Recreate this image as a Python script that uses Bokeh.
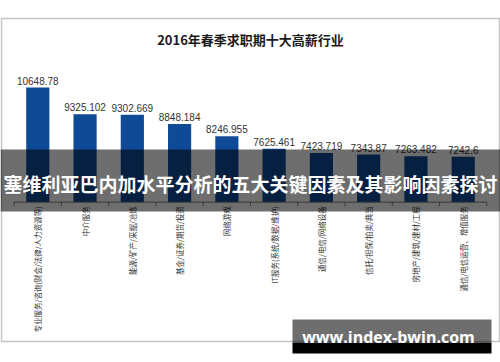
from math import pi
from bokeh.plotting import figure
from bokeh.models import FactorRange, Range1d, BoxAnnotation, Label
from bokeh.core.properties import value
from bokeh.embed import file_html
from bokeh.resources import INLINE

# ---- data ----
categories = [
    "专业服务/咨询(财会/法律/人力资源等)",
    "中介服务",
    "能源/矿产/采掘/冶炼",
    "基金/证券/期货/投资",
    "网络游戏",
    "IT服务(系统/数据/维护)",
    "通信/电信/网络设备",
    "信托/担保/拍卖/典当",
    "房地产/建筑/建材/工程",
    "通信/电信运营、增值服务",
]
values = [10648.78, 9325.102, 9302.669, 8848.184, 8246.955,
          7625.461, 7423.719, 7343.87, 7263.482, 7242.6]
value_labels = ["10648.78", "9325.102", "9302.669", "8848.184", "8246.955",
                "7625.461", "7423.719", "7343.87", "7263.482", "7242.6"]
axis_min = 5000
title_text = "2016年春季求职期十大高薪行业"
banner_text = "塞维利亚巴内加水平分析的五大关键因素及其影响因素探讨"
watermark_text = "www.index-bwin.com"

# ---- layout ----
W, H = 500, 362
SCALE = 0.0203  # px per unit
Y_END = 10648.78 + 87 / SCALE
Y_START = 10648.78 - (H - 87) / SCALE
CJK = "Noto Sans CJK SC"


def sy(y_top):
    """screen y measured from the bottom, given a distance from the top"""
    return H - y_top


def box(left, right, top, bottom, **kw):
    return BoxAnnotation(left=left, right=right, top=sy(top), bottom=sy(bottom),
                         left_units="screen", right_units="screen",
                         top_units="screen", bottom_units="screen", **kw)


p = figure(width=W, height=H, title=None,
           x_range=FactorRange(*categories, range_padding=0.0578, range_padding_units="percent"),
           y_range=Range1d(Y_START, Y_END),
           x_axis_type=None, y_axis_type=None,
           toolbar_location=None, min_border=0,
           output_backend="svg", outline_line_color=None,
           background_fill_color="white", border_fill_color="white")

# bars
p.vbar(x=categories, top=values, bottom=axis_min, width=0.49,
       fill_color="#0e4a96", line_color=None)

# value labels
p.text(x=categories, y=values, text=value_labels, text_font=value("Liberation Sans"),
       text_font_size="10px", text_color="#333333", text_align="center",
       text_baseline="bottom", y_offset=-3)

# category axis line and ticks
tick_len = 4 / SCALE
p.segment(x0=[(categories[0], -0.5)], x1=[(categories[-1], 0.5)],
          y0=[axis_min], y1=[axis_min], line_color="#808080", line_width=1)
bounds = [(c, -0.5) for c in categories] + [(categories[-1], 0.5)]
p.segment(x0=bounds, x1=bounds, y0=[axis_min] * len(bounds),
          y1=[axis_min - tick_len] * len(bounds), line_color="#808080", line_width=1)

# category labels
p.text(x=categories, y=[axis_min] * len(categories), text=categories, angle=pi / 2,
       text_font=value(CJK), text_font_size="7.5px", text_color="#333333",
       text_align="right", text_baseline="middle", y_offset=4)

# chart border
p.add_layout(box(1, 499, 18, 341, fill_color=None, fill_alpha=0,
                 line_color="#3a3a3a", line_width=1.5))

# title
p.add_layout(Label(x=250, y=sy(39), x_units="screen", y_units="screen", text=title_text,
                   text_font=CJK, text_font_style="bold", text_font_size="13px",
                   text_color="#1a1a1a", text_align="center", text_baseline="middle"))

# banner overlay
p.add_layout(box(0, W, 149, 211, fill_color="black", fill_alpha=0.57, line_color=None))
p.add_layout(Label(x=250, y=sy(183), x_units="screen", y_units="screen", text=banner_text,
                   text_font=CJK, text_font_style="bold", text_font_size="19px",
                   text_color="white", text_align="center", text_baseline="middle"))

# watermark
p.add_layout(box(292, 491, 319, 342, fill_color="black", fill_alpha=0.57, line_color=None))
p.add_layout(box(292, 491, 342, 353, fill_color="black", fill_alpha=1, line_color=None))
p.add_layout(Label(x=388, y=sy(336), x_units="screen", y_units="screen", text=watermark_text,
                   text_font="Open Sans", text_font_style="bold", text_font_size="16px",
                   text_color="white", text_align="center", text_baseline="middle"))

open("out.html", "w").write(file_html(p, INLINE))
